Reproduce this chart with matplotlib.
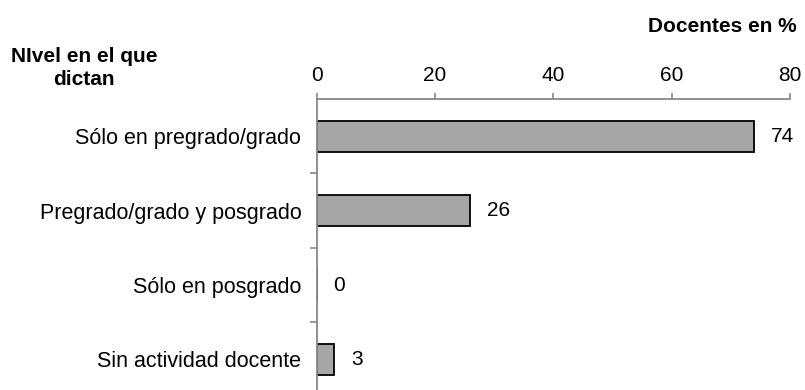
import numpy as np
import matplotlib.pyplot as plt

plt.rcParams['font.family'] = ['Liberation Sans', 'DejaVu Sans']

#%% Data
categorias = ['Sólo en pregrado/grado', 'Pregrado/grado y posgrado',
              'Sólo en posgrado', 'Sin actividad docente']
valores = [74, 26, 0, 3]
ticks_x = [0, 20, 40, 60, 80]

#%% Plot
fig = plt.figure(figsize=(8.05, 3.9), dpi=100)
ax = fig.add_axes([316.6/805, 0, (789.9-316.6)/805, 1 - 99/390])

y = np.arange(len(categorias))
ax.barh(y, valores, height=0.42, color='#a6a6a6', edgecolor='black', linewidth=1.3)

for yi, v in zip(y, valores):
    ax.annotate(str(v), (v, yi), xytext=(12, 0), textcoords='offset points',
                va='center', ha='left', fontsize=15)

ax.set_xlim(0, 80)
ax.set_ylim(3.41, -0.5)
ax.xaxis.tick_top()
ax.set_xticks(ticks_x)
ax.tick_params(axis='x', which='major', direction='out', length=4, width=1.2,
               color='#888888', labelsize=15, pad=6)
ax.set_yticks(y)
ax.set_yticklabels(categorias)
ax.set_yticks([0.5, 1.5, 2.5], minor=True)
ax.tick_params(axis='y', which='major', length=0, labelsize=15.5, pad=11)
ax.tick_params(axis='y', which='minor', direction='out', length=5, width=1.2,
               color='#888888')

for s in ['right', 'bottom']:
    ax.spines[s].set_visible(False)
for s in ['left', 'top']:
    ax.spines[s].set_color('#888888')
    ax.spines[s].set_linewidth(1.3)

fig.text(797/805, 1 - 27/390, 'Docentes en %', ha='right', va='center',
         fontsize=15, fontweight='bold')
fig.text(84/805, 1 - 68/390, 'NIvel en el que\ndictan', ha='center', va='center',
         fontsize=15, fontweight='bold', linespacing=1.3)

plt.savefig('out.png', dpi=100)
